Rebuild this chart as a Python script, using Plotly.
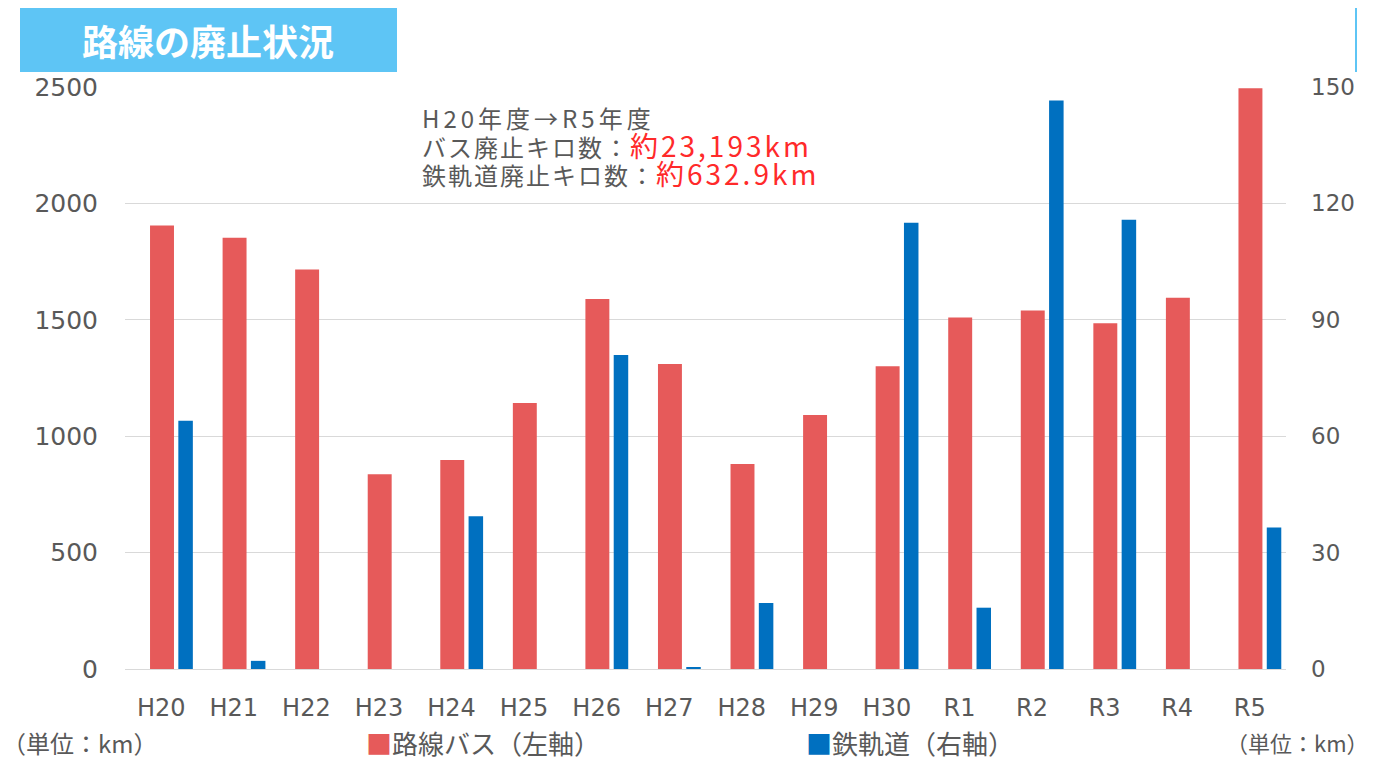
import plotly.graph_objects as go

years = ["H20", "H21", "H22", "H23", "H24", "H25", "H26", "H27",
         "H28", "H29", "H30", "R1", "R2", "R3", "R4", "R5"]
bus_km = [1905, 1852, 1716, 837, 898, 1143, 1589, 1310,
          881, 1091, 1300, 1510, 1540, 1485, 1595, 2495]
rail_km = [64.0, 2.1, 0, 0, 39.4, 0, 80.9, 0.4,
           17.0, 0, 115.0, 15.8, 146.5, 115.8, 0, 36.5]
left_ticks = [0, 500, 1000, 1500, 2000, 2500]
right_ticks = [0, 30, 60, 90, 120, 150]

RED = "#E65A5A"
BLUE = "#0070C0"
GRAY = "#595959"
TXT_RED = "#FF2A2A"
FONT_NUM = "DejaVu Sans"
FONT_JP = "Noto Sans CJK JP"

W, H = 1373, 762
L, R, T, B = 125, 87, 87, 93
PW, PH = W - L - R, H - T - B


def px(x):
    return (x - L) / PW


def py(y):
    return (H - B - y) / PH


fig = go.Figure()
fig.add_trace(go.Bar(
    x=years, y=bus_km, name="路線バス（左軸）", marker_color=RED,
    width=0.33, offset=-0.155, yaxis="y", showlegend=False,
    marker_line_width=0,
))
fig.add_trace(go.Bar(
    x=years, y=rail_km, name="鉄軌道（右軸）", marker_color=BLUE,
    width=0.2, offset=0.235, yaxis="y2", showlegend=False,
    marker_line_width=0,
))

fig.update_layout(
    width=W, height=H,
    margin=dict(l=L, r=R, t=T, b=B, pad=0),
    paper_bgcolor="white", plot_bgcolor="white",
    barmode="overlay",
    xaxis=dict(
        type="category", categoryorder="array", categoryarray=years,
        range=[-0.5, len(years) - 0.5],
        showgrid=False, showline=True, linecolor="#d9d9d9", linewidth=1,
        ticks="", tickfont=dict(family=FONT_NUM, size=24, color=GRAY),
        ticklabelstandoff=17, zeroline=False,
    ),
    yaxis=dict(
        range=[0, 2500], tickvals=left_ticks,
        showgrid=True, gridcolor="#d9d9d9", gridwidth=1,
        zeroline=False, showline=False, ticks="",
        tickfont=dict(family=FONT_NUM, size=25, color=GRAY),
        ticklabelstandoff=26,
    ),
    yaxis2=dict(
        range=[0, 150], tickvals=right_ticks, overlaying="y", side="right",
        showgrid=False, zeroline=False, showline=False, ticks="",
        tickfont=dict(family=FONT_NUM, size=23, color=GRAY),
        ticklabelstandoff=24,
    ),
    font=dict(family=FONT_JP, color=GRAY),
)

# title box
fig.add_shape(type="rect", xref="paper", yref="paper",
              x0=px(20), x1=px(397), y0=py(72), y1=py(8),
              fillcolor="#5EC5F5", line_width=0, layer="above")
fig.add_shape(type="line", xref="paper", yref="paper",
              x0=px(1356), x1=px(1356), y0=py(72), y1=py(8),
              line=dict(color="#5EC5F5", width=2))
fig.add_annotation(xref="paper", yref="paper", x=px(208), y=py(40),
                   text="<b>路線の廃止状況</b>", showarrow=False,
                   xanchor="center", yanchor="middle",
                   font=dict(family=FONT_JP, size=36, color="white"))

# summary text (one block so the lines stack cleanly)
summary_lines = [
    ("H20年度→R5年度", None, 4),
    ("バス廃止キロ数：", "約23,193km", 2),
    ("鉄軌道廃止キロ数：", "約632.9km", 2),
]
parts = []
for gray_txt, red_txt, ls in summary_lines:
    t = f"<span style='font-size:24px;letter-spacing:{ls}px'>{gray_txt}</span>"
    if red_txt:
        t += (f"<span style='color:{TXT_RED};font-size:28px;"
              f"letter-spacing:3px'>{red_txt}</span>")
    parts.append(t)
fig.add_annotation(xref="paper", yref="paper", x=px(420), y=py(146),
                   text="<br>".join(parts), showarrow=False, xanchor="left",
                   yanchor="middle", align="left",
                   font=dict(family=FONT_JP, size=22, color=GRAY))

# bottom legend / unit labels
fig.add_annotation(xref="paper", yref="paper", x=px(0), y=py(742),
                   text="（単位：km）", showarrow=False, xanchor="left",
                   yanchor="middle",
                   font=dict(family=FONT_JP, size=24, color=GRAY))
fig.add_annotation(xref="paper", yref="paper", x=px(1224), y=py(742),
                   text="（単位：km）", showarrow=False, xanchor="left",
                   yanchor="middle",
                   font=dict(family=FONT_JP, size=22, color=GRAY))
fig.add_annotation(xref="paper", yref="paper", x=px(364), y=py(742),
                   text=f"<span style='color:{RED}'>■</span>路線バス（左軸）",
                   showarrow=False, xanchor="left", yanchor="middle",
                   font=dict(family=FONT_JP, size=26, color=GRAY))
fig.add_annotation(xref="paper", yref="paper", x=px(804), y=py(742),
                   text=f"<span style='color:{BLUE}'>■</span>鉄軌道（右軸）",
                   showarrow=False, xanchor="left", yanchor="middle",
                   font=dict(family=FONT_JP, size=26, color=GRAY))

fig.write_html("out.html", config={"displayModeBar": False},
               post_script="document.body.style.margin='0';")
